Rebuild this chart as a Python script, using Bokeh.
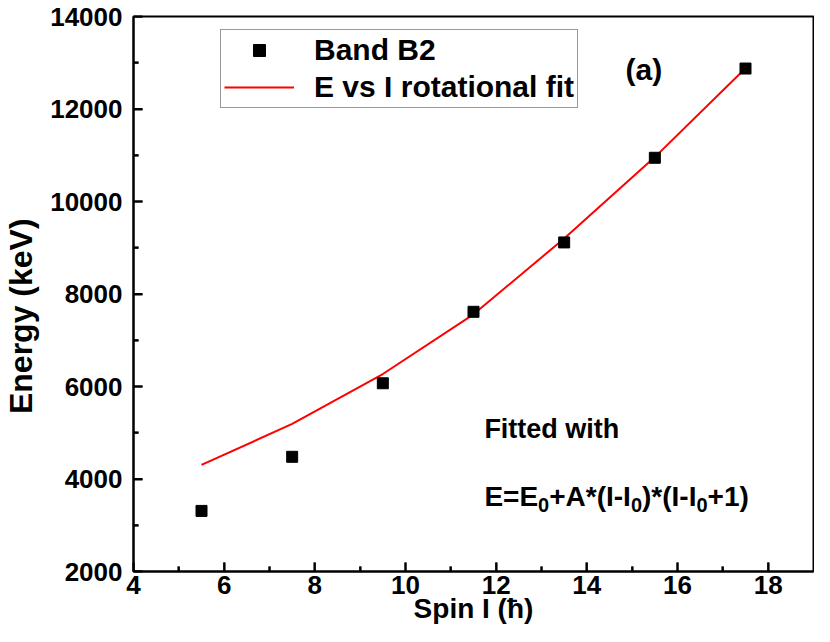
import math
from bokeh.plotting import figure
from bokeh.models import Range1d, Legend, LegendItem, Label, FixedTicker
from bokeh.embed import file_html
from bokeh.resources import INLINE

# ---- data ----
spin = [5.5, 7.5, 9.5, 11.5, 13.5, 15.5, 17.5]
energy_b2 = [3310, 4480, 6070, 7615, 9115, 10945, 12875]
energy_fit = [4305, 5190, 6270, 7560, 9200, 10960, 12880]
x_ticks = [4, 6, 8, 10, 12, 14, 16, 18]
x_minor = [5, 7, 9, 11, 13, 15, 17]
y_ticks = [2000, 4000, 6000, 8000, 10000, 12000, 14000]
y_minor = [3000, 5000, 7000, 9000, 11000, 13000]
legend_labels = ["Band B2", "E vs I rotational fit"]
x_title = "Spin I (ħ)"
y_title = "Energy (keV)"

FONT = "Liberation Sans"
X0, X1, Y0, Y1 = 4, 19, 2000, 14000

p = figure(width=814, height=626, output_backend="svg", toolbar_location=None,
           x_range=Range1d(X0, X1), y_range=Range1d(Y0, Y1),
           min_border_left=129, min_border_right=1, min_border_top=16,
           min_border_bottom=55, background_fill_color="white",
           border_fill_color="white")
p.xgrid.visible = False
p.ygrid.visible = False
p.outline_line_color = "black"
p.outline_line_width = 2
p.outline_line_alpha = 1

# axes
p.xaxis.ticker = FixedTicker(ticks=x_ticks, minor_ticks=x_minor)
p.yaxis.ticker = FixedTicker(ticks=y_ticks, minor_ticks=y_minor)
for ax in (p.xaxis[0], p.yaxis[0]):
    ax.axis_line_width = 2
    ax.major_tick_line_width = 2
    ax.minor_tick_line_width = 2
    ax.major_tick_in = 9
    ax.major_tick_out = 0
    ax.minor_tick_in = 5
    ax.minor_tick_out = 0
    ax.major_label_text_font = FONT
    ax.major_label_text_font_style = "bold"
    ax.major_label_text_font_size = "26px"
    ax.major_label_text_color = "black"
    ax.axis_label_text_font = FONT
    ax.axis_label_text_font_style = "bold"
    ax.axis_label_text_color = "black"

p.xaxis.axis_label = x_title
p.xaxis.axis_label_text_font_size = "28px"
p.xaxis.major_label_standoff = 4
p.xaxis.axis_label_standoff = -4

# trailing no-break spaces shift the rotated title down to where the reference has it
p.yaxis.axis_label = y_title + "\u00a0" * 5
p.yaxis.axis_label_text_font_size = "32px"
p.yaxis.major_label_standoff = 11
p.yaxis.axis_label_standoff = 8

# inward tick marks (clipped to the frame, so only the inner half shows)
p.scatter(x_ticks, [Y0] * len(x_ticks), marker="dash", size=18, angle=math.pi / 2,
          line_color="black", line_width=2)
p.scatter(x_minor, [Y0] * len(x_minor), marker="dash", size=10, angle=math.pi / 2,
          line_color="black", line_width=2)
p.scatter([X0] * len(y_ticks), y_ticks, marker="dash", size=18,
          line_color="black", line_width=2)
p.scatter([X0] * len(y_minor), y_minor, marker="dash", size=10,
          line_color="black", line_width=2)

# data
fit_r = p.line(spin, energy_fit, line_color="red", line_width=2)
pts_r = p.scatter(spin, energy_b2, marker="square", size=11,
                  fill_color="black", line_color="black")

legend = Legend(items=[LegendItem(label=legend_labels[0], renderers=[pts_r]),
                       LegendItem(label=legend_labels[1], renderers=[fit_r])],
                location=(87, 463))
legend.label_text_font = FONT
legend.label_text_font_style = "bold"
legend.label_text_font_size = "30px"
legend.label_text_color = "black"
legend.border_line_color = "#333333"
legend.border_line_width = 1
legend.padding = 3
legend.spacing = 3
legend.margin = 0
legend.glyph_width = 70
legend.glyph_height = 30
legend.label_height = 30
legend.label_standoff = 20
legend.background_fill_alpha = 1
p.add_layout(legend)

def add_text(text, x, y, size, dx=0, dy=0, align="left", baseline="alphabetic"):
    p.add_layout(Label(x=x, y=y, x_offset=dx, y_offset=dy, text=text,
                       text_font=FONT, text_font_style="bold",
                       text_font_size=size, text_color="black",
                       text_align=align, text_baseline=baseline))

add_text("(a)", 15.26, 12860, "30px", align="center", baseline="middle")
add_text("Fitted with", 11.74, 5076, "27px")

# equation with subscripts
W = {"E": 667, "=": 584, "+": 584, "A": 722, "*": 389, "(": 333, ")": 333,
     "I": 278, "-": 333, "0": 556, "1": 556}
MAIN, SUB = 28, 20
pieces = [("E=E", False), ("0", True), ("+A*(I-I", False), ("0", True),
          (")*(I-I", False), ("0", True), ("+1)", False)]
off = 0.0
for txt, is_sub in pieces:
    fs = SUB if is_sub else MAIN
    add_text(txt, 11.74, 3620, f"{fs}px", dx=off, dy=(-8 if is_sub else 0))
    off += sum(W[c] for c in txt) / 1000.0 * fs

open("out.html", "w").write(file_html(p, INLINE))
